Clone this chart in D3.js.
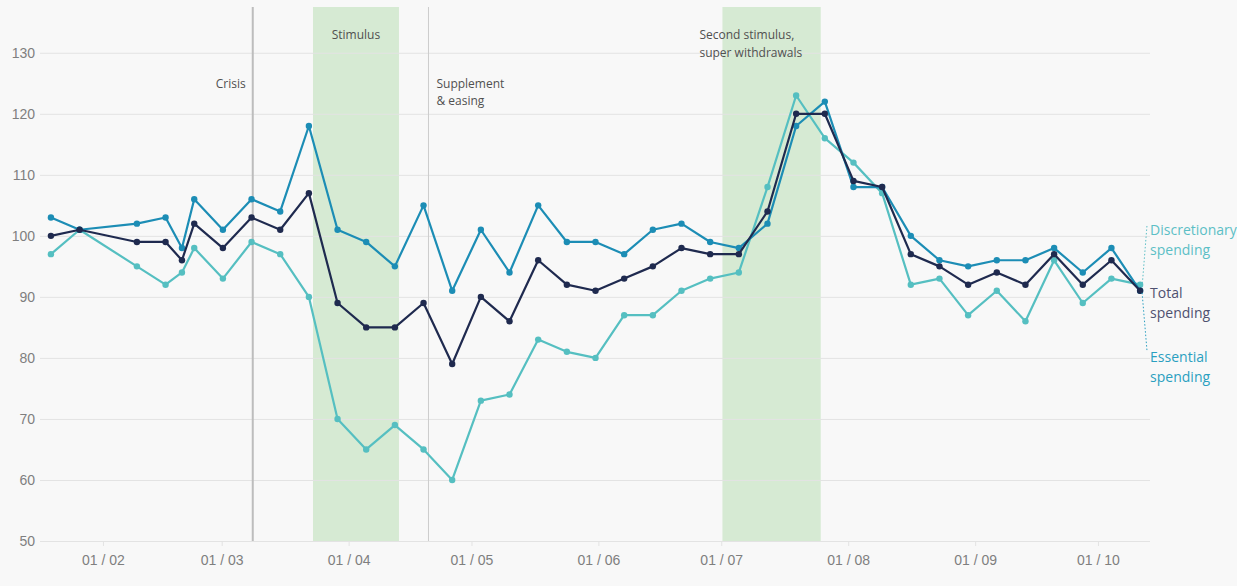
<!DOCTYPE html>
<html>
<head>
<meta charset="utf-8">
<script src="https://cdn.jsdelivr.net/npm/d3@7"></script>
<style>
  html, body { margin: 0; padding: 0; background: #f8f8f8; }
  svg { display: block; font-family: "Open Sans", sans-serif; }
  .axis .domain { display: none; }
</style>
</head>
<body>
<svg id="chart"></svg>
<script>
// weekly readings (2020), plus one extra mid-week reading in February
const dates = [
  "2020-01-19", "2020-01-26", "2020-02-09", "2020-02-16", "2020-02-20", "2020-02-23",
  "2020-03-01", "2020-03-08", "2020-03-15", "2020-03-22", "2020-03-29", "2020-04-05",
  "2020-04-12", "2020-04-19", "2020-04-26", "2020-05-03", "2020-05-10", "2020-05-17",
  "2020-05-24", "2020-05-31", "2020-06-07", "2020-06-14", "2020-06-21", "2020-06-28",
  "2020-07-05", "2020-07-12", "2020-07-19", "2020-07-26", "2020-08-02", "2020-08-09",
  "2020-08-16", "2020-08-23", "2020-08-30", "2020-09-06", "2020-09-13", "2020-09-20",
  "2020-09-27", "2020-10-04", "2020-10-11"
];

const essential = [
  103, 101, 102, 103, 98, 106, 101, 106, 104, 118, 101, 99, 95, 105, 91, 101, 94, 105,
  99, 99, 97, 101, 102, 99, 98, 102, 118, 122, 108, 108, 100, 96, 95, 96, 96, 98, 94, 98, 91
];
const discretionary = [
  97, 101, 95, 92, 94, 98, 93, 99, 97, 90, 70, 65, 69, 65, 60, 73, 74, 83,
  81, 80, 87, 87, 91, 93, 94, 108, 123, 116, 112, 107, 92, 93, 87, 91, 86, 96, 89, 93, 92
];
const total = [
  100, 101, 99, 99, 96, 102, 98, 103, 101, 107, 89, 85, 85, 89, 79, 90, 86, 96,
  92, 91, 93, 95, 98, 97, 97, 104, 120, 120, 109, 108, 97, 95, 92, 94, 92, 97, 92, 96, 91
];

const yTicks = [50, 60, 70, 80, 90, 100, 110, 120, 130];

const bands = [
  { start: "2020-03-23", end: "2020-04-13", label: ["Stimulus"] },
  { start: "2020-07-01", end: "2020-07-25", label: ["Second stimulus,", "super withdrawals"] }
];
const events = [
  { date: "2020-03-08 14", label: ["Crisis"], side: "left", width: 2, color: "#bdbdbd" },
  { date: "2020-04-20 12", label: ["Supplement", "& easing"], side: "right", width: 1, color: "#cccccc" }
];

const seriesInfo = [
  { name: "Discretionary", values: discretionary, color: "#55bfc1", text: "#5cbfc6", labelY: 235 },
  { name: "Essential", values: essential, color: "#1c8db5", text: "#2a9fc0", labelY: 362 },
  { name: "Total", values: total, color: "#1f2a4f", text: "#4f5170", labelY: 298 }
];

const width = 1237;
const height = 586;
const margin = { top: 7, right: 87, bottom: 45, left: 40 };

// readings sit a few hours into the day in the original
const parse = (s) => s.length > 10
  ? d3.timeParse("%Y-%m-%d %H")(s)
  : d3.timeHour.offset(d3.timeParse("%Y-%m-%d")(s), 7);

const svg = d3.select("#chart").attr("width", width).attr("height", height);

const xScale = d3.scaleTime()
  .domain([new Date(2020, 0, 16, 15), new Date(2020, 9, 13, 17)])
  .range([margin.left, width - margin.right]);
const yScale = d3.scaleLinear()
  .domain([50, 137.5])
  .range([height - margin.bottom, margin.top]);

// bands
svg.append("g")
  .selectAll("rect")
  .data(bands)
  .join("rect")
  .attr("x", (d) => xScale(parse(d.start)))
  .attr("width", (d) => xScale(parse(d.end)) - xScale(parse(d.start)))
  .attr("y", margin.top)
  .attr("height", height - margin.bottom - margin.top)
  .attr("fill", "#d6ead3");

// grid + y axis
const yAxisG = svg.append("g")
  .attr("class", "axis")
  .attr("transform", `translate(${margin.left}, 0)`)
  .call(d3.axisLeft(yScale).tickValues(yTicks).tickSize(-(width - margin.left - margin.right)).tickPadding(5));
yAxisG.selectAll(".tick line").attr("stroke", "#e3e3e3");
yAxisG.selectAll(".tick text")
  .attr("fill", "#7f7f7f")
  .style("font-size", "14px");

// x axis
const xAxisG = svg.append("g")
  .attr("class", "axis")
  .attr("transform", `translate(0, ${height - margin.bottom})`)
  .call(d3.axisBottom(xScale)
    .tickValues(d3.timeMonth.range(new Date(2020, 1, 1), new Date(2020, 9, 2)))
    .tickFormat(d3.timeFormat("%d / %m"))
    .tickSize(5)
    .tickPadding(9));
xAxisG.selectAll(".tick line").attr("stroke", "#e3e3e3");
xAxisG.selectAll(".tick text")
  .attr("fill", "#7f7f7f")
  .style("font-size", "14px");

// event lines
svg.append("g")
  .selectAll("line")
  .data(events)
  .join("line")
  .attr("x1", (d) => xScale(parse(d.date)))
  .attr("x2", (d) => xScale(parse(d.date)))
  .attr("y1", margin.top)
  .attr("y2", height - margin.bottom)
  .attr("stroke", (d) => d.color)
  .attr("stroke-width", (d) => d.width);

// annotation text
const annot = svg.append("g")
  .style("font-size", "12px")
  .attr("fill", "#505050");

events.forEach((e) => {
  const x = xScale(parse(e.date));
  e.label.forEach((t, i) => {
    annot.append("text")
      .attr("x", e.side === "left" ? x - 7 : x + 8)
      .attr("y", 88 + i * 17)
      .attr("text-anchor", e.side === "left" ? "end" : "start")
      .text(t);
  });
});

bands.forEach((b, bi) => {
  const x0 = xScale(parse(b.start));
  const x1 = xScale(parse(b.end));
  b.label.forEach((t, i) => {
    annot.append("text")
      .attr("x", bi === 0 ? (x0 + x1) / 2 : x0 - 23)
      .attr("y", 39 + i * 18)
      .attr("text-anchor", bi === 0 ? "middle" : "start")
      .text(t);
  });
});

// lines + points
const lineGen = d3.line()
  .x((d) => xScale(d.date))
  .y((d) => yScale(d.value));

seriesInfo.forEach((s) => {
  const pts = dates.map((d, i) => ({ date: parse(d), value: s.values[i] }));
  const g = svg.append("g");
  g.append("path")
    .datum(pts)
    .attr("d", lineGen)
    .attr("fill", "none")
    .attr("stroke", s.color)
    .attr("stroke-width", 2.2)
    .attr("stroke-linejoin", "round");
  g.selectAll("circle")
    .data(pts)
    .join("circle")
    .attr("cx", (d) => xScale(d.date))
    .attr("cy", (d) => yScale(d.value))
    .attr("r", 3.2)
    .attr("fill", s.color);
});

// end labels with leader lines
const lastX = xScale(parse(dates[dates.length - 1]));
const labelX = lastX + 10;
const lastTotal = yScale(total[total.length - 1]);

const leaders = svg.append("g")
  .attr("stroke-width", 1)
  .attr("stroke-dasharray", "1.5,2")
  .attr("fill", "none");
leaders.append("line")
  .attr("x1", lastX + 2).attr("y1", lastTotal - 4)
  .attr("x2", labelX - 3).attr("y2", 224)
  .attr("stroke", "#5cbfc6");
leaders.append("line")
  .attr("x1", lastX + 2).attr("y1", lastTotal + 2)
  .attr("x2", labelX - 3).attr("y2", 352)
  .attr("stroke", "#2a9fc0");

const legend = svg.append("g").style("font-size", "14px");
seriesInfo.forEach((s) => {
  [s.name, "spending"].forEach((t, i) => {
    legend.append("text")
      .attr("x", labelX)
      .attr("y", s.labelY + i * 20)
      .attr("fill", s.text)
      .text(t);
  });
});
</script>
</body>
</html>
